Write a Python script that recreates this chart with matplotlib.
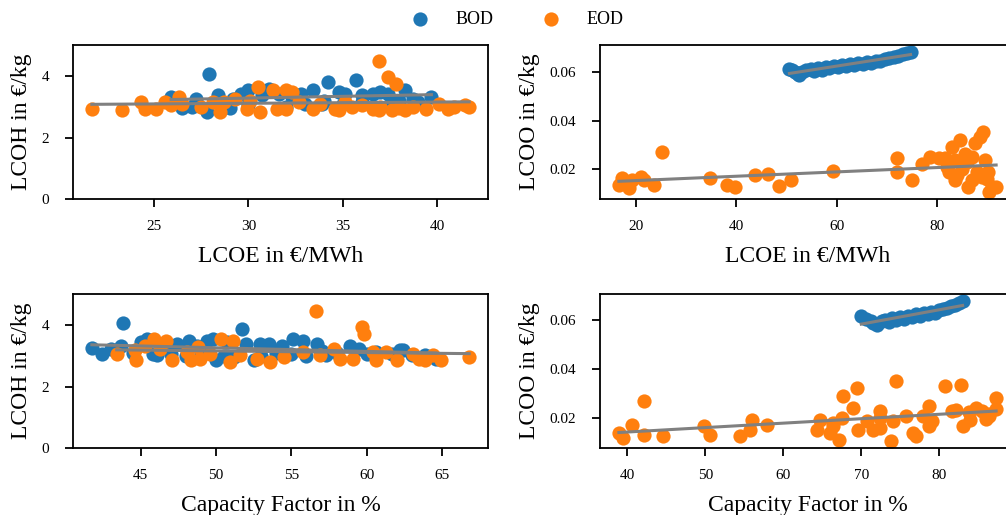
import numpy as np
import matplotlib
matplotlib.use("Agg")
import matplotlib.pyplot as plt

plt.rcParams["font.family"] = ["Liberation Serif", "DejaVu Serif"]

BLUE = "#1f77b4"
ORANGE = "#ff7f0e"

# --- LCOH vs LCOE (EUR/MWh) ---
bod_lcoe_h = [25.9, 27.2, 27.8, 27.9, 28.4, 28.9, 29.2, 29.6, 30.0, 30.7, 31.1, 31.6, 32.3,
              32.8, 33.4, 33.9, 34.0, 34.2, 34.8, 35.1, 35.7, 36.0, 36.6, 37.0, 37.4, 37.6,
              38.3, 38.7, 39.0, 39.7, 26.5, 27.0, 29.0, 30.0, 32.0, 33.0, 35.0, 36.0, 38.0]
bod_lcoh_a = [3.31, 3.26, 2.83, 4.06, 3.37, 3.04, 3.26, 3.42, 3.53, 3.37, 3.58, 3.42, 3.31,
              3.42, 3.53, 3.10, 3.20, 3.80, 3.47, 3.42, 3.85, 3.37, 3.42, 3.47, 3.42, 3.20,
              3.53, 3.26, 3.15, 3.31, 2.95, 3.00, 2.95, 3.05, 3.00, 3.10, 3.10, 3.15, 3.20]
eod_lcoe_h = [21.7, 23.3, 24.3, 24.5, 25.1, 25.6, 25.9, 26.3, 26.5, 27.5, 28.1, 28.5, 28.7,
              29.3, 29.9, 30.1, 30.5, 30.6, 31.3, 31.5, 32.0, 32.3, 32.0, 32.7, 33.4, 33.8,
              34.6, 34.8, 35.1, 35.5, 36.0, 36.6, 36.9, 36.9, 37.0, 37.4, 37.6, 37.8, 38.0,
              38.3, 38.7, 39.4, 40.1, 40.6, 40.9, 41.5, 41.7]
eod_lcoh_a = [2.94, 2.88, 3.15, 2.94, 2.94, 3.15, 3.04, 3.31, 3.10, 2.99, 3.15, 2.83, 3.15,
              3.26, 2.94, 3.20, 3.63, 2.83, 3.53, 2.94, 3.53, 3.47, 2.94, 3.15, 2.94, 3.10,
              2.94, 2.88, 3.15, 2.99, 3.05, 2.94, 2.88, 4.49, 3.00, 3.95, 2.88, 3.74, 2.95,
              2.88, 2.99, 2.94, 3.10, 2.94, 2.99, 3.04, 2.99]

# --- LCOO vs LCOE (EUR/MWh) ---
bod_lcoe_o = [50.6, 51.2, 51.8, 52.3, 52.6, 53.2, 54.0, 54.8, 55.5, 56.3, 57.0, 57.8, 58.5,
              59.4, 60.2, 61.0, 61.8, 62.7, 63.5, 64.3, 65.2, 66.0, 66.9, 67.8, 68.7, 69.6,
              70.5, 71.4, 72.3, 73.2, 74.0, 74.8]
bod_lcoo_a = [0.0614, 0.0608, 0.0600, 0.0592, 0.0586, 0.0598, 0.0606, 0.0612, 0.0603, 0.0618,
              0.0610, 0.0622, 0.0615, 0.0626, 0.0620, 0.0630, 0.0624, 0.0634, 0.0630, 0.0638,
              0.0634, 0.0642, 0.0638, 0.0646, 0.0643, 0.0652, 0.0656, 0.0662, 0.0667, 0.0672,
              0.0678, 0.0682]
eod_lcoe_o = [16.5, 17.2, 18.5, 19.2, 20.9, 21.5, 23.5, 25.2, 34.7, 38.1, 39.7, 43.7, 46.3,
              48.6, 50.9, 59.2, 72.1, 72.1, 75.1, 77.1, 78.7, 80.4, 81.7, 82.0, 82.4, 83.0,
              83.7, 83.7, 84.0, 84.7, 85.0, 85.7, 86.0, 86.3, 87.0, 87.0, 87.7, 88.0, 88.5,
              88.7, 89.0, 89.3, 89.6, 90.0, 90.3, 90.5, 91.0, 91.9]
eod_lcoo_a = [0.0134, 0.0162, 0.0121, 0.0155, 0.0168, 0.0155, 0.0134, 0.0271, 0.0162, 0.0134,
              0.0127, 0.0175, 0.0182, 0.0131, 0.0155, 0.0193, 0.0244, 0.0189, 0.0155, 0.0221,
              0.0251, 0.0244, 0.0244, 0.0210, 0.0189, 0.0292, 0.0155, 0.0237, 0.0175, 0.0319,
              0.0200, 0.0264, 0.0230, 0.0127, 0.0251, 0.0155, 0.0306, 0.0190, 0.0175, 0.0333,
              0.0168, 0.0353, 0.0237, 0.0160, 0.0189, 0.0105, 0.0127, 0.0127]

# --- LCOH vs capacity factor (%) ---
bod_cf_h = [41.75, 42.4, 43.0, 43.7, 43.85, 44.5, 45.0, 45.4, 46.1, 46.3, 46.9, 47.0, 47.4,
            48.2, 48.7, 49.4, 49.8, 50.0, 50.5, 50.7, 51.7, 52.0, 52.5, 52.9, 53.5, 54.0,
            54.4, 55.1, 55.8, 56.7, 57.0, 57.3, 58.9, 59.5, 60.6, 61.7, 62.2, 62.4, 63.0,
            63.9, 64.6, 45.8, 48.0, 49.0, 51.2, 53.0, 55.0, 56.0, 58.0, 60.0]
bod_lcoh_b = [3.26, 3.06, 3.23, 3.33, 4.06, 3.10, 3.44, 3.55, 3.01, 3.39, 3.28, 3.05, 3.39,
              3.49, 3.33, 3.49, 3.55, 2.85, 3.00, 3.44, 3.87, 3.39, 2.85, 3.39, 3.39, 3.10,
              3.33, 3.55, 3.49, 3.39, 3.15, 3.01, 3.33, 3.23, 3.12, 3.06, 3.17, 3.17, 3.01,
              3.01, 2.90, 3.05, 3.00, 3.10, 2.95, 3.00, 3.05, 3.00, 3.10, 3.05]
eod_cf_h = [43.4, 44.6, 44.7, 45.3, 45.9, 46.3, 46.7, 47.1, 48.1, 48.3, 48.8, 48.9, 49.6,
            50.3, 50.9, 51.1, 51.6, 52.7, 53.6, 54.5, 55.8, 56.6, 56.9, 57.8, 58.2, 59.1,
            59.7, 59.8, 60.4, 60.6, 61.3, 62.0, 63.1, 63.5, 63.9, 64.4, 64.9, 66.8]
eod_lcoh_b = [3.06, 3.17, 2.85, 3.33, 3.55, 3.23, 3.49, 2.85, 3.12, 2.85, 3.28, 2.90, 3.06,
              3.55, 2.79, 3.49, 3.01, 2.90, 2.79, 2.96, 3.12, 4.46, 3.01, 3.23, 2.90, 2.90,
              3.92, 3.71, 3.12, 2.85, 3.12, 2.85, 3.06, 2.90, 2.85, 3.01, 2.85, 2.96]

# --- LCOO vs capacity factor (%) ---
bod_cf_o = [70.0, 70.6, 71.2, 71.5, 72.0, 72.6, 73.1, 73.6, 74.0, 74.5, 75.0, 75.5, 76.0,
            76.5, 77.0, 77.5, 78.0, 78.5, 79.0, 79.5, 80.0, 80.5, 81.0, 81.5, 82.0, 82.5, 83.0]
bod_lcoo_b = [0.0618, 0.0608, 0.0598, 0.0590, 0.0582, 0.0596, 0.0604, 0.0594, 0.0610, 0.0600,
              0.0614, 0.0606, 0.0620, 0.0614, 0.0626, 0.0620, 0.0630, 0.0626, 0.0636, 0.0632,
              0.0642, 0.0646, 0.0652, 0.0658, 0.0664, 0.0670, 0.0680]
eod_cf_o = [38.9, 39.4, 40.6, 42.1, 42.1, 44.5, 49.8, 50.6, 54.5, 55.7, 56.0, 57.9, 64.3,
            64.7, 66.0, 66.4, 66.4, 67.2, 67.5, 67.7, 69.0, 69.4, 69.6, 70.7, 71.5, 72.4,
            72.4, 72.4, 73.8, 74.1, 74.5, 75.8, 76.6, 77.0, 77.9, 78.7, 78.7, 79.1, 80.7,
            81.7, 82.2, 82.8, 83.0, 83.8, 84.0, 84.7, 85.5, 86.0, 86.4, 86.4, 87.3, 87.3]
eod_lcoo_b = [0.0138, 0.0118, 0.0172, 0.0268, 0.0131, 0.0124, 0.0166, 0.0131, 0.0124, 0.0152,
              0.0193, 0.0172, 0.0152, 0.0193, 0.0138, 0.0166, 0.0180, 0.0111, 0.0200, 0.0289,
              0.0241, 0.0323, 0.0152, 0.0186, 0.0152, 0.0227, 0.0159, 0.0200, 0.0104, 0.0186,
              0.0350, 0.0207, 0.0138, 0.0124, 0.0207, 0.0166, 0.0248, 0.0186, 0.0330, 0.0230,
              0.0234, 0.0337, 0.0166, 0.0225, 0.0190, 0.0240, 0.0230, 0.0195, 0.0207, 0.0215,
              0.0280, 0.0235]

xlabel_lcoe = "LCOE in €/MWh"
xlabel_cf = "Capacity Factor in %"
ylabel_h = "LCOH in €/kg"
ylabel_o = "LCOO in €/kg"
series_names = ["BOD", "EOD"]

xticks_tl = [25, 30, 35, 40]
xticks_tr = [20, 40, 60, 80]
xticks_bl = [45, 50, 55, 60, 65]
xticks_br = [40, 50, 60, 70, 80]
yticks_h = [0, 2, 4]
yticks_o = [0.02, 0.04, 0.06]

W, H = 1006, 515
fig = plt.figure(figsize=(W / 100, H / 100), dpi=100)


def box(left, top, right, bottom):
    return [left / W, 1 - bottom / H, (right - left) / W, (bottom - top) / H]


ax_tl = fig.add_axes(box(73, 45, 488, 199.3))
ax_tr = fig.add_axes(box(600, 45, 1015, 199.3))
ax_bl = fig.add_axes(box(73, 294, 488, 448.3))
ax_br = fig.add_axes(box(600, 294, 1015, 448.3))

panels = [
    (ax_tl, bod_lcoe_h, bod_lcoh_a, eod_lcoe_h, eod_lcoh_a, xlabel_lcoe, ylabel_h, xticks_tl, yticks_h, (0, 5)),
    (ax_tr, bod_lcoe_o, bod_lcoo_a, eod_lcoe_o, eod_lcoo_a, xlabel_lcoe, ylabel_o, xticks_tr, yticks_o, None),
    (ax_bl, bod_cf_h, bod_lcoh_b, eod_cf_h, eod_lcoh_b, xlabel_cf, ylabel_h, xticks_bl, yticks_h, (0, 5)),
    (ax_br, bod_cf_o, bod_lcoo_b, eod_cf_o, eod_lcoo_b, xlabel_cf, ylabel_o, xticks_br, yticks_o, None),
]

for ax, bx, by, ex, ey, xl, yl, xt, yt, ylim in panels:
    ax.scatter(bx, by, s=105, color=BLUE, linewidths=0, label=series_names[0], zorder=2)
    ax.scatter(ex, ey, s=105, color=ORANGE, linewidths=0, label=series_names[1], zorder=2)
    # least-squares trend line for each series
    for xs, ys in ((bx, by), (ex, ey)):
        xs = np.asarray(xs)
        coef = np.polyfit(xs, np.asarray(ys), 1)
        xx = np.array([xs.min(), xs.max()])
        ax.plot(xx, np.polyval(coef, xx), color="gray", lw=2.2, zorder=3)
    ax.set_xticks(xt)
    ax.set_yticks(yt)
    if ylim is not None:
        ax.set_ylim(*ylim)
    ax.set_xlabel(xl, fontsize=17, labelpad=9)
    ax.set_ylabel(yl, fontsize=17, labelpad=7)
    ax.tick_params(labelsize=11, length=6, width=1.3)
    ax.tick_params(axis="x", pad=9)
    ax.tick_params(axis="y", pad=11)
    for sp in ax.spines.values():
        sp.set_linewidth(1.3)

handles, labels = ax_tl.get_legend_handles_labels()
fig.legend(handles, labels, loc="center", bbox_to_anchor=(513 / W, 1 - 19 / H),
           ncol=2, frameon=False, fontsize=13, handletextpad=0.95,
           columnspacing=2.2, borderaxespad=0)

fig.savefig("out.png", dpi=100)
